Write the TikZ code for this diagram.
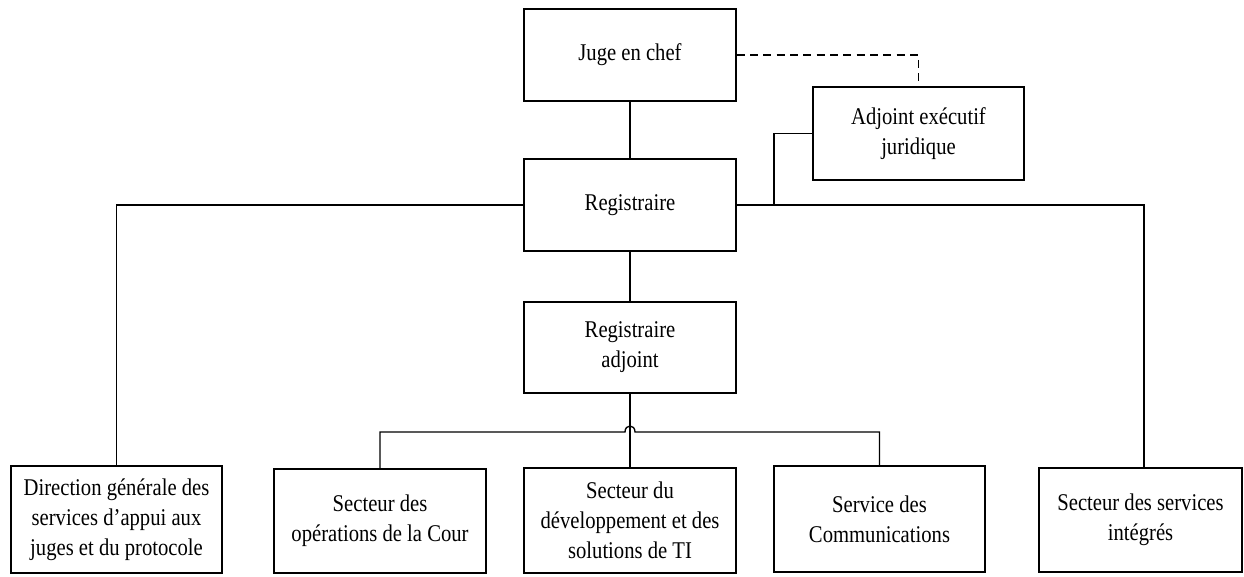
\documentclass[tikz,border=0pt]{standalone}
\usepackage{fontspec}
\setmainfont{Liberation Serif}[FakeStretch=0.86]
\begin{document}
\begin{tikzpicture}[x=0.75pt,y=-0.75pt,
  box/.style={draw,line width=1pt,inner sep=0pt,align=center,
    font=\fontsize{18}{22.5}\selectfont},
  conn/.style={line width=1pt}]
\useasboundingbox (0,0) rectangle (1244,577);
\node[box,minimum width=212*0.75pt,minimum height=92*0.75pt] (juge) at (630,55) {Juge en chef};
\node[box,minimum width=212*0.75pt,minimum height=92*0.75pt] (reg) at (630,205) {Registraire};
\node[box,minimum width=212*0.75pt,minimum height=91*0.75pt] (regadj) at (630,347.5) {Registraire\\adjoint};
\node[box,minimum width=211*0.75pt,minimum height=93*0.75pt] (adjex) at (918.5,133.5) {Adjoint exécutif\\juridique};
\node[box,minimum width=211*0.75pt,minimum height=107*0.75pt] (dir) at (116.5,519.5) {Direction générale des\\services d’appui aux\\juges et du protocole};
\node[box,minimum width=212*0.75pt,minimum height=104*0.75pt] (ops) at (380,521) {Secteur des\\opérations de la Cour};
\node[box,minimum width=212*0.75pt,minimum height=105*0.75pt] (dev) at (630,520.5) {Secteur du\\développement et des\\solutions de TI};
\node[box,minimum width=211*0.75pt,minimum height=106*0.75pt] (com) at (879.5,519) {Service des\\Communications};
\node[box,minimum width=203*0.75pt,minimum height=104*0.75pt] (int) at (1140.5,520) {Secteur des services\\intégrés};
\coordinate (j) at (774,205);
\coordinate (hl) at (625,432);
\coordinate (hr) at (635,432);
\draw[conn] (juge) -- (reg);
\draw[conn] (reg) -- (regadj);
\draw[conn] (regadj) -- (dev);
\draw[conn,dash pattern=on 6pt off 4pt] (juge.east) -| (adjex.north);
\draw[conn] (reg.west) -| (dir.north);
\draw[conn] (reg.east) -| ([xshift=2.6pt]int.north);
\draw[conn] (adjex.west) -| (j);
\draw[conn] (ops.north) |- (hl) .. controls (625,424) and (635,424) .. (hr) -| (com.north);
\end{tikzpicture}
\end{document}
